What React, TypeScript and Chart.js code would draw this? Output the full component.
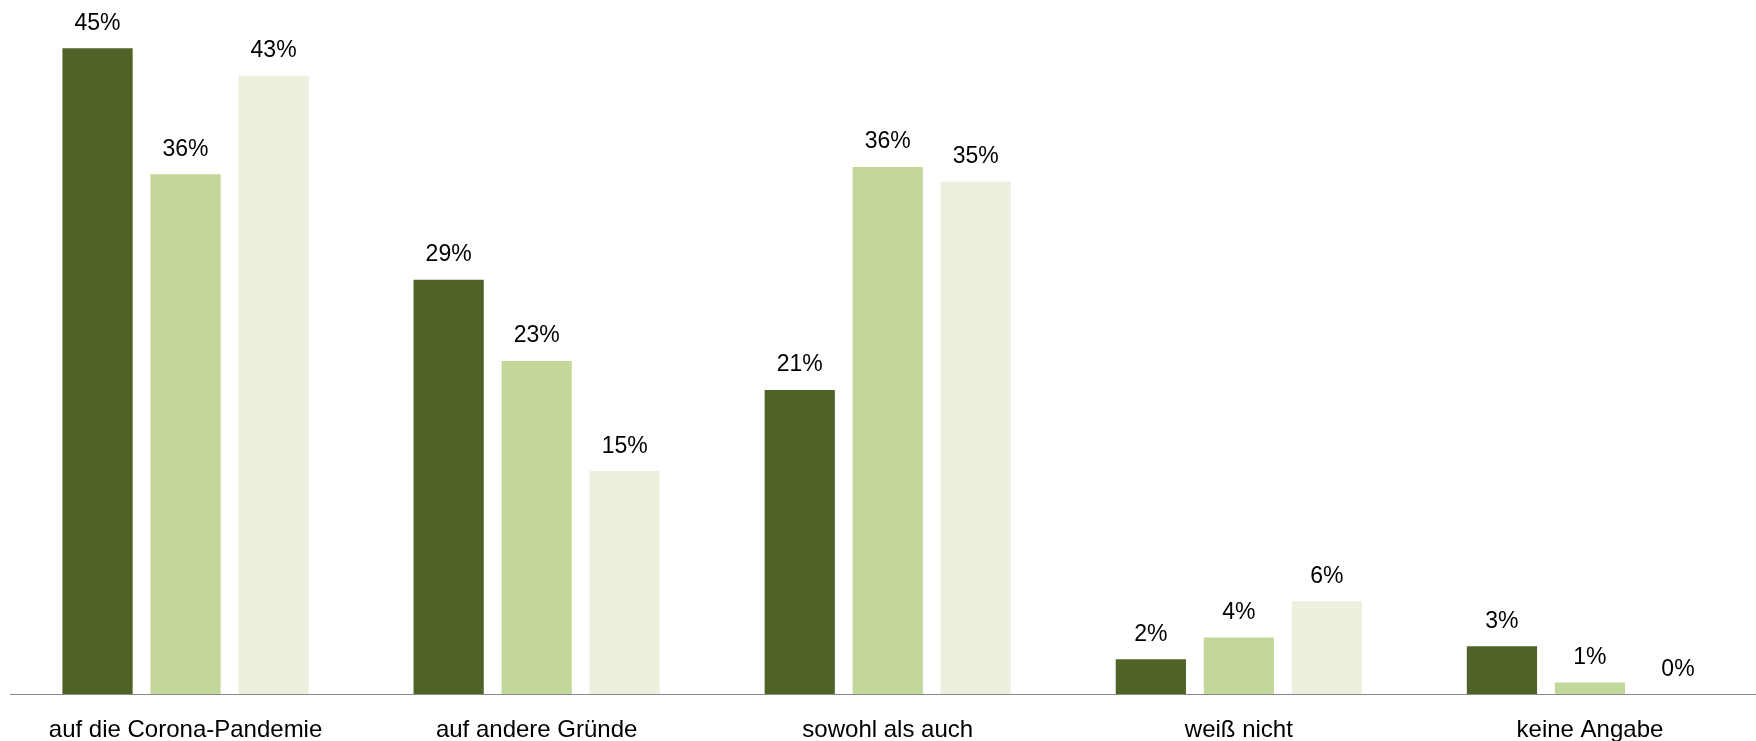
import React, { useEffect, useRef } from "react";
import { Chart, registerables } from "chart.js";

Chart.register(...registerables);

const categories = [
  "auf die Corona-Pandemie",
  "auf andere Gründe",
  "sowohl als auch",
  "weiß nicht",
  "keine Angabe",
];
const seriesNames = ["Reihe 1", "Reihe 2", "Reihe 3"];
const series1 = [44.6, 28.6, 21.0, 2.4, 3.3];
const series2 = [35.9, 23.0, 36.4, 3.9, 0.8];
const series3 = [42.7, 15.4, 35.4, 6.4, 0];
const seriesColors = ["#4F6228", "#C4D79B", "#EBF1DE"];

const FONT = '"Liberation Sans", Arial, sans-serif';
const Y_MAX = 47;

const dataLabelPlugin = {
  id: "dataLabels",
  afterDatasetsDraw(chart: any) {
    const ctx = chart.ctx;
    ctx.save();
    ctx.font = `23px ${FONT}`;
    ctx.fillStyle = "#000000";
    ctx.textAlign = "center";
    ctx.textBaseline = "alphabetic";
    chart.data.datasets.forEach((ds: any, di: number) => {
      const meta = chart.getDatasetMeta(di);
      meta.data.forEach((bar: any, i: number) => {
        const v = ds.data[i];
        ctx.fillText(`${Math.round(v)}%`, bar.x, bar.y - 18.5);
      });
    });
    ctx.restore();
  },
};

export default function App() {
  const ref = useRef<HTMLCanvasElement | null>(null);

  useEffect(() => {
    if (!ref.current) return;
    const allSeries = [series1, series2, series3];
    const chart = new Chart(ref.current, {
      type: "bar",
      data: {
        labels: categories,
        datasets: allSeries.map((d, i) => ({
          label: seriesNames[i],
          data: d,
          backgroundColor: seriesColors[i],
          borderWidth: 0,
          categoryPercentage: 0.752,
          barPercentage: 0.798,
        })),
      },
      options: {
        responsive: false,
        animation: false,
        events: [],
        layout: {
          padding: { top: 694 - 14.48 * Y_MAX, left: 10, right: 0.5, bottom: 0 },
        },
        plugins: {
          legend: { display: false },
          tooltip: { enabled: false },
        },
        scales: {
          x: {
            grid: { display: false, drawTicks: false },
            border: { display: true, color: "#898989", width: 1 },
            afterFit: (scale: any) => {
              scale.height = 741 - 694;
            },
            ticks: {
              autoSkip: false,
              maxRotation: 0,
              padding: 24,
              color: "#000000",
              font: { family: FONT, size: 24, lineHeight: 1 },
            },
          },
          y: {
            display: false,
            min: 0,
            max: Y_MAX,
          },
        },
      },
      plugins: [dataLabelPlugin],
    });
    return () => chart.destroy();
  }, []);

  return (
    <div
      style={{
        position: "absolute",
        left: 0,
        top: 0,
        width: 1756,
        height: 741,
        overflow: "hidden",
        background: "#ffffff",
      }}
    >
      <canvas ref={ref} width={1766} height={741} style={{ display: "block", width: 1766, height: 741 }} />
    </div>
  );
}
